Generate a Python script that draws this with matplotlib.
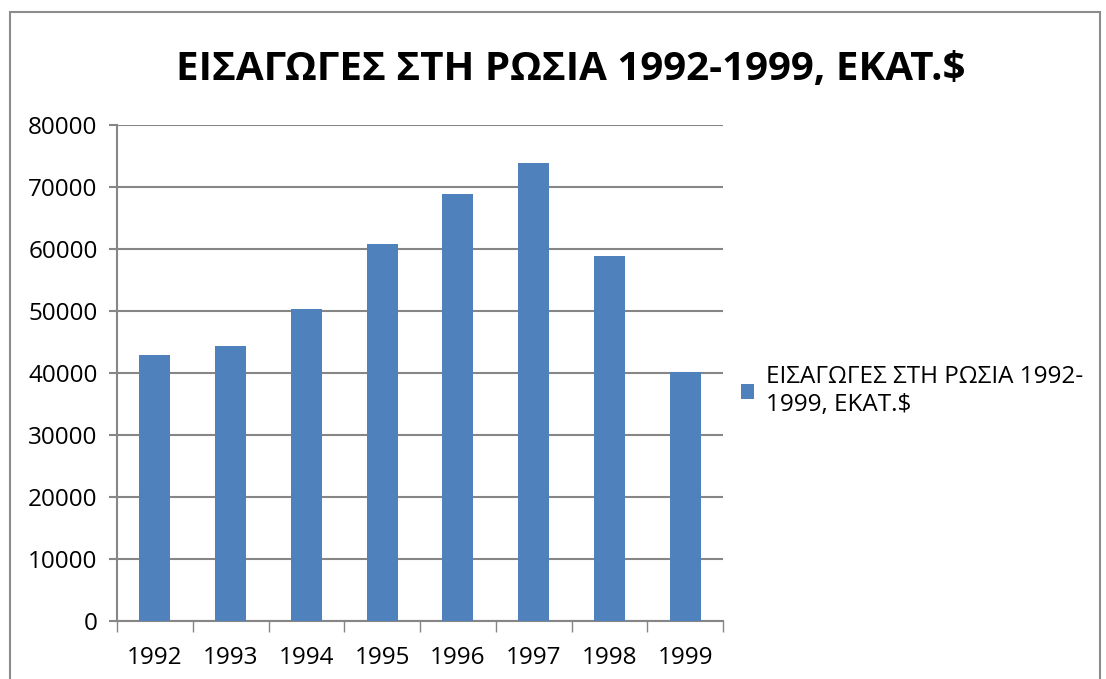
import matplotlib
matplotlib.use('Agg')
import matplotlib.pyplot as plt
from matplotlib.patches import Rectangle

years = ['1992', '1993', '1994', '1995', '1996', '1997', '1998', '1999']
imports = [42900, 44400, 50400, 60800, 68800, 73800, 58900, 40200]
series_name = 'ΕΙΣΑΓΩΓΕΣ ΣΤΗ ΡΩΣΙΑ 1992-1999, ΕΚΑΤ.$'
legend_label = 'ΕΙΣΑΓΩΓΕΣ ΣΤΗ ΡΩΣΙΑ 1992-\n1999, ΕΚΑΤ.$'
y_ticks = [0, 10000, 20000, 30000, 40000, 50000, 60000, 70000, 80000]

plt.rcParams['font.family'] = ['Open Sans', 'DejaVu Sans']

bar_color = '#4F81BD'
grid_color = '#868686'

fig = plt.figure(figsize=(11.06, 6.79), dpi=100)
ax = fig.add_axes([117 / 1106, 1 - 621 / 679, 606 / 1106, 496 / 679])

x = range(len(years))
ax.bar(x, imports, width=0.41, color=bar_color, label=legend_label, zorder=3)

ax.set_xlim(-0.5, len(years) - 0.5)
ax.set_ylim(0, 80000)
ax.set_yticks(y_ticks)
ax.set_yticklabels([str(v) for v in y_ticks], fontsize=17.5)
ax.yaxis.grid(True, color=grid_color, linewidth=1.5, zorder=0)

ax.set_xticks(x)
ax.set_xticklabels(years, fontsize=17.5)
ax.tick_params(axis='x', length=0, pad=18)
ax.tick_params(axis='y', length=6, width=1.5, color=grid_color, pad=8)
# category boundary ticks
ax.set_xticks([i - 0.5 for i in range(len(years) + 1)], minor=True)
ax.tick_params(axis='x', which='minor', length=8, width=1, color=grid_color)

for side in ['top', 'right']:
    ax.spines[side].set_visible(False)
for side in ['left', 'bottom']:
    ax.spines[side].set_color(grid_color)
    ax.spines[side].set_linewidth(1.5)

fig.text(0.516, 0.898, series_name, ha='center', va='center',
         fontsize=29, fontweight='bold')

ax.legend(loc='upper left', bbox_to_anchor=(1.013, 0.535), frameon=False,
          fontsize=17.5, handlelength=0.55, handleheight=0.55, handletextpad=0.5,
          borderaxespad=0, labelspacing=0.2)

# chart frame
fig.patches.append(Rectangle((10 / 1106, -0.05), 1090 / 1106, 1.05 - 12 / 679,
                             transform=fig.transFigure, fill=False,
                             edgecolor='#8c8c8c', linewidth=1.5))

fig.savefig('out.png', dpi=100)
